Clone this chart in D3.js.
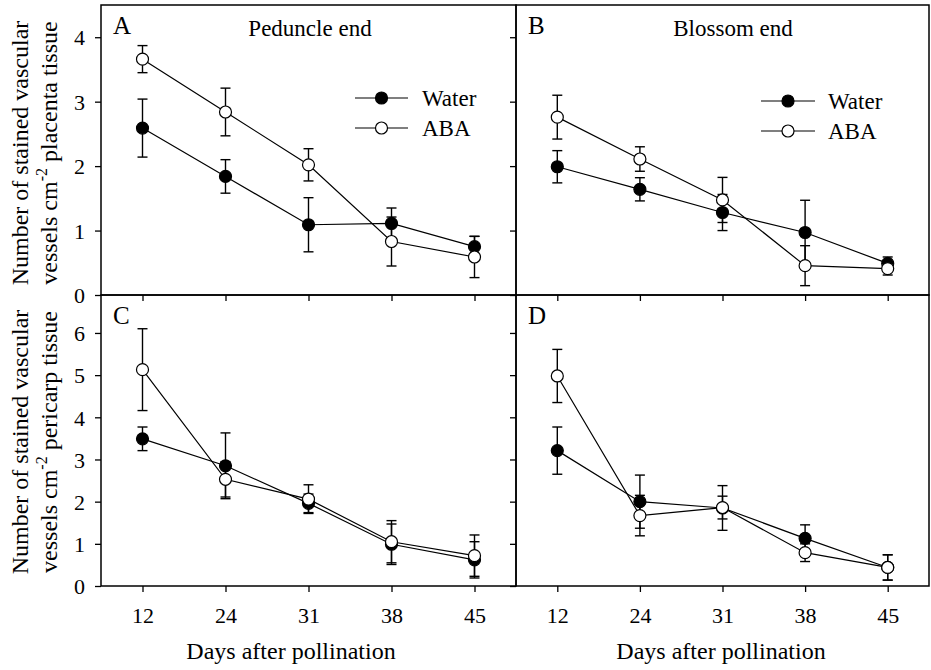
<!DOCTYPE html>
<html><head><meta charset="utf-8">
<script src="https://cdn.jsdelivr.net/npm/d3@7"></script>
<style>
body{margin:0;background:#fff;}
svg, svg text{font-family:"Liberation Serif","Times New Roman",Times,serif !important;fill:#000;}
</style></head>
<body><svg id="c" width="931" height="670" font-family="Liberation Serif"></svg>
<script>
const days = ["12","24","31","38","45"];
const yTicksTop = [0,1,2,3,4];
const yTicksBottom = [0,1,2,3,4,5,6];
const seriesNames = ["Water","ABA"];

const A_water = [2.59,1.84,1.09,1.11,0.75];
const A_waterErr = [0.45,0.26,0.42,0.24,0.16];
const A_aba = [3.66,2.84,2.02,0.83,0.59];
const A_abaErr = [0.21,0.37,0.25,0.38,0.32];

const B_water = [1.99,1.64,1.28,0.97,0.49];
const B_waterErr = [0.25,0.18,0.28,0.50,0.10];
const B_aba = [2.76,2.11,1.475,0.455,0.41];
const B_abaErr = [0.34,0.19,0.35,0.31,0.10];

const C_water = [3.49,2.85,1.96,0.99,0.62];
const C_waterErr = [0.28,0.78,0.22,0.48,0.43];
const C_aba = [5.13,2.53,2.06,1.05,0.72];
const C_abaErr = [0.97,0.42,0.34,0.50,0.49];

const D_water = [3.21,2.00,1.85,1.13,0.44];
const D_waterErr = [0.56,0.63,0.53,0.32,0.30];
const D_aba = [4.98,1.67,1.86,0.79,0.44];
const D_abaErr = [0.63,0.48,0.27,0.21,0.30];

const FONT = '"Liberation Serif","Times New Roman",Times,serif';
const svg = d3.select("#c");
const colX = [[101,516],[516,929]];
const rowY = [[5,295],[295,586]];
const yMax = [4.5, 6.9];

const panels = [
  {id:"A", col:0,row:0, title:"Peduncle end", titleX:310, water:A_water, we:A_waterErr, aba:A_aba, ae:A_abaErr, legend:{x0:355,x1:408,ty:[98,128],tx:422}},
  {id:"B", col:1,row:0, title:"Blossom end", titleX:733, water:B_water, we:B_waterErr, aba:B_aba, ae:B_abaErr, legend:{x0:761,x1:815,ty:[101,131],tx:828}},
  {id:"C", col:0,row:1, water:C_water, we:C_waterErr, aba:C_aba, ae:C_abaErr},
  {id:"D", col:1,row:1, water:D_water, we:D_waterErr, aba:D_aba, ae:D_abaErr}
];

panels.forEach(p=>{
  const [x0,x1] = colX[p.col];
  const [y0,y1] = rowY[p.row];
  const x = d3.scalePoint().domain(days).range([x0,x1]).padding(0.5);
  const y = d3.scaleLinear().domain([0,yMax[p.row]]).range([y1,y0]);
  const g = svg.append("g");
  const ticks = p.row===0 ? yTicksTop : yTicksBottom;

  const ya = g.append("g").attr("transform",`translate(${x0},0)`)
    .call(d3.axisLeft(y).tickValues(ticks).tickSize(6).tickPadding(10)
      .tickFormat(p.col===0 ? d3.format("d") : ()=>""));
  ya.attr("font-family",FONT).attr("font-size",22);
  ya.select(".domain").remove();
  ya.selectAll("line").attr("stroke","#000").attr("stroke-width",1.3);
  ya.selectAll("text").attr("font-size",22).attr("dy","0.35em").attr("font-family",FONT);

  const xa = g.append("g").attr("transform",`translate(0,${y1})`)
    .call(d3.axisBottom(x).tickSize(6).tickFormat(p.row===1 ? d=>d : ()=>""));
  xa.attr("font-family",FONT).attr("font-size",22);
  xa.select(".domain").remove();
  xa.selectAll("line").attr("stroke","#000").attr("stroke-width",1.3);
  xa.selectAll("text").attr("font-size",22).attr("y",37).attr("dy",0).attr("font-family",FONT);

  g.append("rect").attr("x",x0).attr("y",y0).attr("width",x1-x0).attr("height",y1-y0)
    .attr("fill","none").attr("stroke","#000").attr("stroke-width",1.5);

  g.append("text").attr("x",x0+12).attr("y",y0+29).attr("font-size",25).attr("font-family",FONT).text(p.id);
  if(p.title){
    g.append("text").attr("x",p.titleX).attr("y",y0+31).attr("text-anchor","middle")
      .attr("font-size",23).attr("font-family",FONT).text(p.title);
  }

  const series = [
    {vals:p.water, err:p.we, fill:"#000"},
    {vals:p.aba, err:p.ae, fill:"#fff"}
  ];
  const line = d3.line().x((d,i)=>x(days[i])).y(d=>y(d));
  series.forEach(s=>{
    const sg = g.append("g");
    sg.append("path").attr("d",line(s.vals)).attr("fill","none")
      .attr("stroke","#000").attr("stroke-width",1.2);
    s.vals.forEach((v,i)=>{
      const cx = x(days[i]);
      const top = y(v+s.err[i]), bot = y(v-s.err[i]);
      sg.append("line").attr("x1",cx).attr("x2",cx).attr("y1",top).attr("y2",bot)
        .attr("stroke","#000").attr("stroke-width",1.4);
      [top,bot].forEach(yy=>{
        sg.append("line").attr("x1",cx-5).attr("x2",cx+5).attr("y1",yy).attr("y2",yy)
          .attr("stroke","#000").attr("stroke-width",1.4);
      });
    });
    s.vals.forEach((v,i)=>{
      sg.append("circle").attr("cx",x(days[i])).attr("cy",y(v)).attr("r",6)
        .attr("fill",s.fill).attr("stroke","#000").attr("stroke-width",1.2);
    });
  });

  if(p.legend){
    const L = p.legend;
    seriesNames.forEach((name,k)=>{
      const ly = L.ty[k];
      g.append("line").attr("x1",L.x0).attr("x2",L.x1).attr("y1",ly).attr("y2",ly)
        .attr("stroke","#000").attr("stroke-width",1.2);
      g.append("circle").attr("cx",(L.x0+L.x1)/2).attr("cy",ly).attr("r",6)
        .attr("fill",k===0?"#000":"#fff").attr("stroke","#000").attr("stroke-width",1.2);
      g.append("text").attr("x",L.tx).attr("y",ly).attr("dy","0.35em")
        .attr("font-size",23).attr("font-family",FONT).text(name);
    });
  }
});

[291,721].forEach(cx=>{
  svg.append("text").attr("x",cx).attr("y",659).attr("text-anchor","middle")
    .attr("font-size",24).attr("font-family",FONT).text("Days after pollination");
});

function yTitle(cy, tissue){
  svg.append("text").attr("transform",`translate(28,${cy}) rotate(-90)`)
    .attr("text-anchor","middle").attr("font-size",24).attr("font-family",FONT)
    .text("Number of stained vascular");
  const t2 = svg.append("text").attr("transform",`translate(57,${cy}) rotate(-90)`)
    .attr("text-anchor","middle").attr("font-size",24).attr("font-family",FONT);
  t2.append("tspan").text("vessels cm");
  t2.append("tspan").attr("dy",-10).attr("font-size",16).text("-2");
  t2.append("tspan").attr("dy",10).text(" " + tissue + " tissue");
}
yTitle(153, "placenta");
yTitle(442, "pericarp");
</script></body></html>
